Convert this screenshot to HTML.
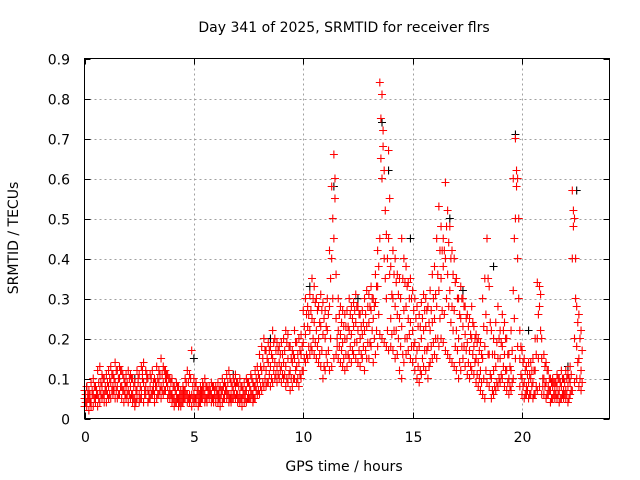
<!DOCTYPE html>
<html><head><meta charset="utf-8"><style>
body{margin:0;background:#fff}
svg{display:block;font-family:"DejaVu Sans","Liberation Sans",sans-serif}
</style></head><body>
<svg id="chart" width="640" height="480" viewBox="0 0 640 480" xmlns="http://www.w3.org/2000/svg">
<rect width="640" height="480" fill="#fff"/>
<text x="344" y="32" font-size="14" text-anchor="middle">Day 341 of 2025, SRMTID for receiver flrs</text>
<g id="grid"></g>
<g id="marks"></g>
<rect x="84.5" y="58.5" width="525" height="360" fill="none" stroke="#000" stroke-width="1"/>
<g id="axes"></g>
<text x="344" y="471" font-size="14" text-anchor="middle">GPS time / hours</text>
<text x="18" y="238" font-size="14" text-anchor="middle" transform="rotate(-90 18 238)">SRMTID / TECUs</text>
</svg>
<script>
const xTicks=[0,5,10,15,20];
const yTicks=[0,0.1,0.2,0.3,0.4,0.5,0.6,0.7,0.8,0.9];
const yTickLabels=["0","0.1","0.2","0.3","0.4","0.5","0.6","0.7","0.8","0.9"];
const tStart=0, tStep=0.1, tOffset=0.05;
const redLow=[.03,.03,.02,.03,.03,.04,.03,.04,.05,.04,
.04,.05,.05,.06,.05,.05,.06,.05,.04,.05,
.04,.05,.04,.03,.05,.04,.05,.04,.06,.04,
.05,.06,.04,.05,.06,.05,.06,.07,.05,.05,
.04,.03,.04,.03,.03,.04,.05,.04,.04,.03,
.04,.04,.03,.04,.05,.04,.04,.05,.04,.04,
.04,.04,.03,.04,.05,.05,.04,.04,.05,.05,
.04,.04,.03,.04,.04,.05,.05,.04,.05,.06,
.06,.07,.08,.08,.09,.08,.09,.10,.09,.10,
.09,.10,.08,.09,.07,.08,.10,.09,.08,.10,
.12,.14,.15,.16,.17,.16,.15,.14,.13,.10,
.12,.14,.12,.13,.15,.16,.15,.14,.13,.12,
.13,.15,.14,.16,.15,.14,.13,.15,.12,.15,
.15,.18,.14,.16,.18,.21,.20,.19,.18,.17,
.18,.17,.15,.16,.12,.10,.14,.16,.17,.15,
.14,.12,.10,.09,.11,.13,.12,.10,.14,.15,
.16,.15,.18,.20,.19,.17,.16,.15,.14,.13,
.12,.10,.12,.15,.13,.11,.10,.12,.11,.09,
.08,.07,.06,.05,.09,.08,.05,.06,.07,.08,
.09,.10,.08,.07,.06,.07,.10,.15,.18,.08,
.06,.05,.06,.05,.06,.05,.06,.07,.08,.06,
.06,.05,.06,.04,.05,.05,.05,.04,.05,.05,
.05,.04,.06,.07,.09,.10,.08,.07];
const redMid=[.05,.04,.05,.04,.06,.05,.06,.07,.08,.06,
.07,.08,.09,.08,.09,.08,.10,.08,.07,.08,
.07,.08,.06,.05,.07,.06,.07,.09,.08,.07,
.08,.07,.06,.08,.09,.08,.09,.10,.08,.07,
.06,.05,.06,.05,.05,.06,.07,.06,.06,.06,
.06,.05,.05,.06,.07,.06,.05,.06,.06,.05,
.05,.06,.05,.07,.06,.07,.06,.06,.07,.08,
.06,.06,.05,.06,.07,.06,.07,.06,.08,.09,
.10,.12,.13,.12,.14,.13,.15,.14,.13,.14,
.13,.14,.13,.15,.12,.14,.15,.13,.14,.16,
.19,.21,.23,.22,.25,.24,.22,.20,.23,.21,
.20,.22,.28,.40,.45,.25,.22,.21,.19,.20,
.20,.22,.21,.23,.24,.22,.20,.21,.22,.23,
.24,.27,.25,.29,.33,.45,.60,.40,.30,.45,
.25,.30,.28,.26,.25,.23,.27,.28,.25,.24,
.22,.19,.17,.18,.20,.22,.23,.18,.22,.24,
.25,.28,.32,.35,.38,.40,.36,.32,.28,.27,
.22,.20,.25,.23,.21,.19,.17,.20,.18,.15,
.14,.12,.15,.18,.22,.16,.10,.12,.13,.15,
.15,.18,.16,.12,.10,.12,.32,.50,.40,.15,
.10,.09,.08,.09,.10,.09,.12,.20,.28,.15,
.10,.09,.08,.07,.08,.07,.08,.07,.08,.07,
.07,.08,.09,.40,.20,.18,.15,.12];
const redHigh=[.07,.08,.07,.09,.10,.08,.12,.13,.11,.10,
.11,.12,.13,.11,.14,.12,.13,.12,.10,.11,
.12,.11,.10,.09,.12,.11,.13,.14,.12,.10,
.11,.12,.10,.13,.12,.15,.13,.12,.11,.10,
.10,.08,.09,.08,.07,.08,.10,.12,.11,.17,
.10,.09,.07,.08,.09,.10,.08,.08,.09,.08,
.08,.09,.08,.10,.09,.11,.12,.09,.10,.11,
.09,.10,.08,.09,.10,.09,.11,.09,.12,.13,
.16,.18,.20,.17,.19,.18,.22,.20,.19,.18,
.19,.20,.22,.21,.18,.17,.22,.19,.20,.21,
.27,.30,.28,.31,.35,.33,.30,.28,.31,.29,
.27,.30,.42,.58,.66,.36,.30,.28,.27,.26,
.27,.30,.28,.29,.31,.28,.26,.27,.30,.32,
.31,.33,.30,.36,.42,.84,.81,.62,.46,.67,
.38,.42,.40,.36,.35,.45,.40,.38,.34,.35,
.32,.30,.28,.26,.29,.31,.30,.28,.32,.36,
.38,.45,.53,.48,.45,.59,.52,.48,.42,.40,
.35,.30,.33,.30,.28,.26,.25,.28,.23,.21,
.20,.19,.30,.35,.45,.33,.22,.20,.24,.28,
.22,.26,.24,.20,.16,.22,.60,.70,.60,.22,
.17,.15,.13,.14,.14,.15,.20,.34,.33,.20,
.16,.14,.12,.10,.10,.09,.11,.10,.12,.10,
.12,.11,.13,.57,.50,.28,.26,.22];
const redExtraA=[.04,.06,.04,.06,.05,.07,.05,.09,.06,.08,
.06,.10,.07,.10,.07,.10,.08,.11,.06,.09,
.06,.10,.05,.07,.09,.05,.10,.07,.10,.06,
.06,.09,.08,.10,.07,.11,.07,.11,.06,.09,
.05,.07,.05,.06,.04,.07,.06,.09,.05,.08,
.05,.07,.04,.07,.06,.08,.06,.07,.05,.07,
.06,.07,.06,.08,.07,.09,.05,.08,.06,.09,
.05,.08,.06,.07,.05,.08,.06,.08,.07,.11,
.08,.15,.10,.15,.11,.16,.12,.17,.11,.16,
.11,.17,.10,.18,.10,.16,.12,.16,.11,.18,
.15,.26,.18,.27,.20,.29,.18,.24,.17,.25,
.16,.26,.20,.50,.55,.20,.26,.17,.23,.16,
.16,.26,.17,.27,.19,.26,.16,.24,.17,.28,
.19,.30,.20,.33,.26,.65,.72,.52,.22,.55,
.21,.36,.22,.31,.18,.35,.20,.33,.21,.30,
.18,.25,.13,.23,.15,.27,.17,.24,.18,.30,
.20,.36,.25,.42,.26,.48,.28,.40,.22,.34,
.17,.26,.18,.28,.17,.23,.13,.24,.14,.19,
.10,.16,.10,.26,.16,.24,.07,.16,.09,.20,
.11,.22,.12,.16,.08,.17,.45,.62,.50,.11,
.08,.12,.07,.11,.08,.12,.08,.26,.22,.10,
.08,.12,.07,.09,.06,.09,.06,.09,.06,.09,
.06,.10,.07,.48,.30,.24,.10,.17];
const redExtraB=[.06,.05,.06,.07,.08,.06,.09,.06,.10,.07,
.09,.06,.11,.07,.12,.06,.12,.07,.09,.06,
.10,.06,.08,.04,.10,.08,.12,.06,.11,.05,
.10,.07,.09,.06,.11,.07,.12,.09,.10,.06,
.08,.04,.08,.04,.06,.05,.09,.05,.10,.05,
.08,.06,.06,.05,.08,.05,.07,.06,.08,.06,
.07,.05,.07,.05,.08,.06,.10,.05,.09,.06,
.08,.05,.07,.05,.09,.05,.10,.05,.10,.07,
.13,.09,.17,.09,.17,.10,.19,.11,.17,.12,
.16,.11,.19,.11,.15,.10,.19,.10,.17,.12,
.23,.16,.26,.18,.30,.19,.27,.16,.27,.13,
.23,.17,.35,.30,.60,.18,.18,.24,.15,.23,
.23,.18,.25,.19,.28,.17,.23,.18,.26,.19,
.28,.22,.28,.22,.38,.75,.68,.35,.40,.36,
.31,.22,.34,.20,.30,.16,.34,.20,.30,.18,
.27,.15,.23,.12,.25,.17,.27,.13,.27,.19,
.31,.20,.42,.27,.42,.30,.44,.24,.36,.18,
.30,.14,.30,.18,.25,.14,.21,.16,.20,.11,
.17,.09,.23,.12,.35,.11,.16,.08,.19,.10,
.19,.13,.20,.09,.13,.09,.25,.58,.30,.18,
.14,.06,.11,.06,.12,.06,.16,.15,.31,.08,
.13,.06,.10,.05,.09,.06,.10,.05,.10,.06,
.10,.05,.11,.52,.40,.14,.20,.09];
const blackHours=[0.1,2.3,5.0,6.8,8.5,10.3,11.4,12.5,13.6,13.9,14.9,16.7,17.3,18.7,19.7,20.3,22.5,22.1];
const blackVals=[0.08,0.10,0.15,0.11,0.20,0.33,0.58,0.30,0.74,0.62,0.45,0.50,0.32,0.38,0.71,0.22,0.57,0.13];

const X0=84.5,X1=609.5,Y0=418.5,Y1=58.5,XMAX=24,YMAX=0.9;
const xs=v=>X0+(X1-X0)*v/XMAX;
const ys=v=>Y0-(Y0-Y1)*v/YMAX;
const NS="http://www.w3.org/2000/svg";
function mk(tag,attrs,parent){const e=document.createElementNS(NS,tag);for(const k in attrs)e.setAttribute(k,attrs[k]);parent.appendChild(e);return e;}
const grid=document.getElementById('grid'),axes=document.getElementById('axes'),marks=document.getElementById('marks');
xTicks.forEach((t,i)=>{
  const x=Math.round(xs(t))+0.5;
  if(i>0){const g=mk('line',{x1:x,x2:x,y1:Y1,y2:Y0,stroke:'#a0a0a0','stroke-dasharray':'2,3'},grid);
  
  }
  const a=mk('line',{x1:x,x2:x,y1:Y0,y2:Y0-6,stroke:'#000'},axes);
  
  
  const b=mk('line',{x1:x,x2:x,y1:Y1,y2:Y1+6,stroke:'#000'},axes);
  
  
  const l=mk('text',{x:x,y:442,'font-size':14,'text-anchor':'middle'},axes);l.textContent=String(t);
  
  
});
yTicks.forEach((t,i)=>{
  const y=Math.round(ys(t))+0.5;
  if(i>0&&i<yTicks.length-1){const g=mk('line',{x1:X0,x2:X1,y1:y,y2:y,stroke:'#a0a0a0','stroke-dasharray':'2,3'},grid);
  
  }
  const a=mk('line',{x1:X0,x2:X0+6,y1:y,y2:y,stroke:'#000'},axes);
  
  
  const b=mk('line',{x1:X1,x2:X1-6,y1:y,y2:y,stroke:'#000'},axes);
  
  
  const l=mk('text',{x:70,y:y+5,'font-size':14,'text-anchor':'end'},axes);l.textContent=yTickLabels[i];
  
  
});
function plus(t,v,color,name){
  const x=xs(t),y=ys(v);
  const p=mk('path',{d:`M${x-4},${y}h8M${x},${y-4}v8`,stroke:color,'stroke-width':1.1,fill:'none'},marks);
  
  
}
blackHours.forEach((h,i)=>plus(h,blackVals[i],'#000','black-point'));
[redLow,redMid,redHigh].forEach(arr=>arr.forEach((v,i)=>plus(tStart+i*tStep,v,'#ff0000','red-point')));
[redExtraA,redExtraB].forEach(arr=>arr.forEach((v,i)=>plus(tStart+tOffset+i*tStep,v,'#ff0000','red-point')));
</script>
</body></html>
